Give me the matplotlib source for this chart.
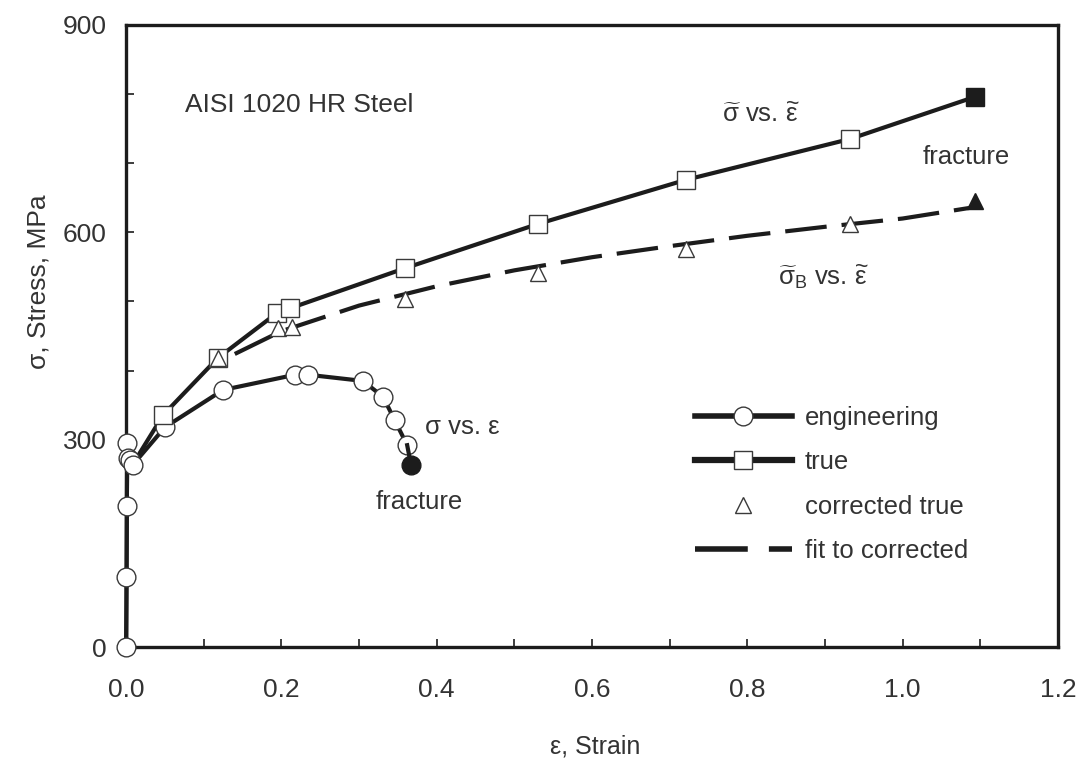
import matplotlib
matplotlib.use("Agg")
import matplotlib.pyplot as plt
from matplotlib.lines import Line2D
from matplotlib.ticker import MultipleLocator

plt.rcParams['font.family'] = ['Liberation Sans', 'DejaVu Sans']
plt.rcParams['mathtext.fontset'] = 'custom'
plt.rcParams['mathtext.rm'] = 'Liberation Sans'
plt.rcParams['mathtext.it'] = 'Liberation Sans'
plt.rcParams['mathtext.bf'] = 'Liberation Sans:bold'

# ---- data ----
eng_strain = [0, 0.0005, 0.001, 0.0015, 0.002, 0.005, 0.009, 0.050, 0.125, 0.218,
              0.234, 0.305, 0.331, 0.346, 0.362, 0.367]
eng_stress = [0, 101, 204, 295, 274, 270, 264, 318, 372, 394,
              394, 385, 362, 328, 292, 263]

true_strain = [0, 0.0005, 0.001, 0.0015, 0.002, 0.005, 0.009, 0.048, 0.118, 0.194,
               0.211, 0.359, 0.530, 0.721, 0.932, 1.093]
true_stress = [0, 101, 204, 295, 274, 270, 265, 336, 418, 483,
               490, 548, 612, 676, 735, 796]

corr_strain = [0.118, 0.196, 0.214, 0.359, 0.530, 0.721, 0.932, 1.093]
corr_stress = [418, 462, 463, 503, 541, 576, 612, 645]

fit_strain = [0.14, 0.2, 0.3, 0.4, 0.5, 0.6, 0.7, 0.8, 0.9, 1.0, 1.09]
fit_stress = [424, 457, 494, 522, 545, 564, 580, 595, 608, 620, 636]

x_ticks = [0.0, 0.2, 0.4, 0.6, 0.8, 1.0, 1.2]
x_labels = ['0.0', '0.2', '0.4', '0.6', '0.8', '1.0', '1.2']
y_ticks = [0, 300, 600, 900]
y_labels = ['0', '300', '600', '900']

LC = '#1c1c1c'
EC = '#3a3a3a'
TC = '#333333'
LW = 3.0
MS_O = 13.5
MS_S = 13
MS_T = 12

fig = plt.figure(figsize=(10.82, 7.64), dpi=100)
ax = fig.add_axes([0.1165, 0.1531, 0.8613, 0.8142])

DASH = (0, (10, 3.6))
# fit to corrected (dashed)
ax.plot(fit_strain, fit_stress, color=LC, lw=LW, linestyle=DASH,
        dash_capstyle='butt', zorder=2)
# true line
ax.plot(true_strain, true_stress, color=LC, lw=LW, zorder=2)
# engineering line with circles
ax.plot(eng_strain[:-1], eng_stress[:-1], color=LC, lw=LW, marker='o', ms=MS_O,
        mfc='white', mec=EC, mew=1.0, zorder=3, clip_on=False)
ax.plot(eng_strain[-2:], eng_stress[-2:], color=LC, lw=LW, zorder=3)
ax.plot(eng_strain[-1:], eng_stress[-1:], linestyle='none', marker='o', ms=MS_O,
        mfc=LC, mec=LC, zorder=4)
# true markers
ax.plot(true_strain[7:-1], true_stress[7:-1], linestyle='none', marker='s', ms=MS_S,
        mfc='white', mec=EC, mew=1.0, zorder=4)
ax.plot(true_strain[-1:], true_stress[-1:], linestyle='none', marker='s', ms=MS_S,
        mfc=LC, mec=LC, zorder=4)
# corrected true triangles
ax.plot(corr_strain[:-1], corr_stress[:-1], linestyle='none', marker='^', ms=MS_T,
        mfc='white', mec=EC, mew=1.0, zorder=5)
ax.plot(corr_strain[-1:], corr_stress[-1:], linestyle='none', marker='^', ms=MS_T,
        mfc=LC, mec=LC, zorder=5)

ax.set_xlim(0, 1.2)
ax.set_ylim(0, 900)
ax.set_xticks(x_ticks)
ax.set_xticklabels(x_labels)
ax.set_yticks(y_ticks)
ax.set_yticklabels(y_labels)
ax.xaxis.set_minor_locator(MultipleLocator(0.1))
ax.yaxis.set_minor_locator(MultipleLocator(100))
ax.tick_params(axis='both', which='both', direction='in', length=6, width=1.2,
               color=LC, labelcolor=TC, labelsize=19)
ax.tick_params(axis='x', which='major', pad=22)
ax.tick_params(axis='y', which='major', pad=14)
for s in ax.spines.values():
    s.set_linewidth(2.4)
    s.set_color(LC)

ax.set_xlabel('ε, Strain', fontsize=18, color=TC)
ax.set_ylabel('σ, Stress, MPa', fontsize=19, color=TC)
ax.xaxis.set_label_coords(0.503, -0.141)
ax.yaxis.set_label_coords(-0.0815, 0.588)

# annotations
fs = 18.5
ax.text(0.076, 784, 'AISI 1020 HR Steel', fontsize=19, color=TC, va='center', ha='left')
ax.text(0.767, 770, r'$\widetilde{\sigma}$ vs. $\widetilde{\varepsilon}$', fontsize=fs,
        color=TC, va='center', ha='left')
ax.text(1.026, 709, 'fracture', fontsize=fs, color=TC, va='center', ha='left')
ax.text(0.839, 535, r'$\widetilde{\sigma}_\mathrm{B}$ vs. $\widetilde{\varepsilon}$',
        fontsize=fs, color=TC, va='center', ha='left')
ax.text(0.385, 318, 'σ vs. ε', fontsize=fs, color=TC, va='center', ha='left')
ax.text(0.321, 210, 'fracture', fontsize=fs, color=TC, va='center', ha='left')

handles = [
    Line2D([], [], color=LC, lw=4, marker='o', ms=MS_O, mfc='white', mec=EC, mew=1.0),
    Line2D([], [], color=LC, lw=4.5, marker='s', ms=MS_S, mfc='white', mec=EC, mew=1.0),
    Line2D([], [], linestyle='none', marker='^', ms=MS_T, mfc='white', mec=EC, mew=1.0),
    Line2D([], [], color=LC, lw=4, linestyle=(0, (9.5, 3.8)), dash_capstyle='butt'),
]
labels = ['engineering', 'true', 'corrected true', 'fit to corrected']
leg = ax.legend(handles, labels, loc='upper left', bbox_to_anchor=(0.61, 0.388),
                frameon=False, fontsize=fs, borderpad=0, borderaxespad=0,
                handlelength=3.8, handletextpad=0.5, labelspacing=0.8, numpoints=1)
for t in leg.get_texts():
    t.set_color(TC)

fig.savefig('out.png', dpi=100)
